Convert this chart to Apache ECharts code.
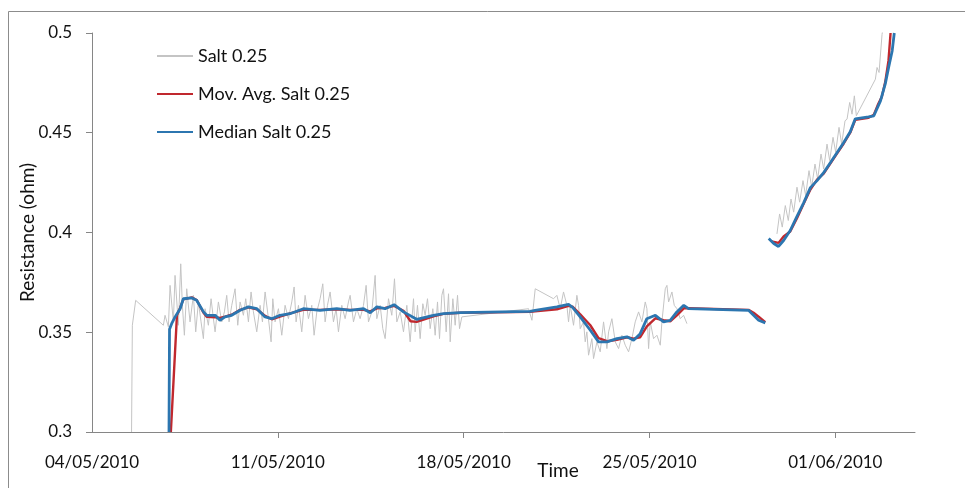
<!DOCTYPE html>
<html>
<head>
<meta charset="utf-8">
<script src="https://cdn.jsdelivr.net/npm/echarts@6/dist/echarts.min.js"></script>
<style>
  html, body { margin: 0; padding: 0; background: #fff; }
  #chart { width: 965px; height: 488px; }
</style>
</head>
<body>
<div id="chart"></div>
<script>
// x = days since 04/05/2010, y = resistance (ohm)
var xTickLabels = ['04/05/2010', '11/05/2010', '18/05/2010', '25/05/2010', '01/06/2010'];
var yTicks = [0.3, 0.35, 0.4, 0.45, 0.5];
var seriesNames = ['Salt 0.25', 'Mov. Avg. Salt 0.25', 'Median Salt 0.25'];

var salt = [
    [1.49, 0.300], [1.52, 0.3535], [1.645, 0.366], [2.688, 0.3535], [2.751, 0.3585], [2.877, 0.3527],
    [2.94, 0.3735], [3.065, 0.3552], [3.128, 0.3785], [3.254, 0.3535], [3.342, 0.3843], [3.404, 0.3635],
    [3.48, 0.3485], [3.568, 0.3718], [3.693, 0.3552], [3.819, 0.3685], [3.907, 0.3502], [4.008, 0.3652],
    [4.108, 0.3552], [4.196, 0.3468], [4.259, 0.3618], [4.384, 0.3535], [4.485, 0.3668], [4.573, 0.3568],
    [4.636, 0.3502], [4.761, 0.3652], [4.887, 0.3552], [4.987, 0.3602], [5.075, 0.3685], [5.163, 0.3552],
    [5.264, 0.3635], [5.389, 0.3718], [5.49, 0.3535], [5.578, 0.3652], [5.703, 0.3585], [5.791, 0.3668],
    [5.892, 0.3552], [5.992, 0.3702], [6.08, 0.3602], [6.206, 0.3502], [6.332, 0.3635], [6.42, 0.3552],
    [6.52, 0.3702], [6.646, 0.3568], [6.746, 0.3452], [6.81, 0.3668], [6.896, 0.3552], [7.022, 0.3618],
    [7.148, 0.3485], [7.273, 0.3635], [7.399, 0.3568], [7.525, 0.3652], [7.613, 0.3727], [7.688, 0.3552],
    [7.776, 0.3635], [7.901, 0.3502], [8.027, 0.3685], [8.153, 0.3568], [8.278, 0.3635], [8.366, 0.3485],
    [8.467, 0.3602], [8.592, 0.3668], [8.693, 0.3743], [8.781, 0.3552], [8.869, 0.3635], [8.969, 0.3702],
    [9.095, 0.3552], [9.195, 0.3618], [9.283, 0.3502], [9.409, 0.3635], [9.535, 0.3568], [9.66, 0.3652],
    [9.723, 0.3685], [9.849, 0.3552], [9.974, 0.3618], [10.1, 0.3568], [10.226, 0.3635], [10.326, 0.3735],
    [10.414, 0.3552], [10.54, 0.3602], [10.665, 0.3785], [10.728, 0.3568], [10.854, 0.3635], [10.954, 0.3518],
    [11.042, 0.3468], [11.168, 0.3668], [11.293, 0.3585], [11.394, 0.3768], [11.482, 0.3552], [11.608, 0.3602],
    [11.733, 0.3502], [11.859, 0.3635], [11.984, 0.3452], [12.11, 0.3668], [12.172, 0.3502], [12.26, 0.3635],
    [12.361, 0.3468], [12.461, 0.3643], [12.549, 0.3585], [12.637, 0.3668], [12.738, 0.3518], [12.838, 0.3618],
    [12.926, 0.3485], [13.014, 0.3652], [13.09, 0.3468], [13.177, 0.3685], [13.24, 0.3718], [13.341, 0.3502],
    [13.429, 0.3693], [13.492, 0.3452], [13.592, 0.3668], [13.68, 0.3535], [13.768, 0.3685], [13.843, 0.3518],
    [13.931, 0.3577], [16.444, 0.3618], [16.57, 0.356], [16.695, 0.3718], [17.385, 0.3668], [17.51, 0.3685],
    [17.636, 0.3618], [17.761, 0.3702], [17.887, 0.3635], [17.95, 0.3552], [18.013, 0.3635], [18.138, 0.3535],
    [18.264, 0.3685], [18.327, 0.3635], [18.39, 0.3518], [18.515, 0.3552], [18.578, 0.3452], [18.641, 0.3502],
    [18.704, 0.3385], [18.83, 0.3468], [18.892, 0.3368], [19.018, 0.3452], [19.143, 0.3402], [19.269, 0.3552],
    [19.395, 0.3418], [19.458, 0.3502], [19.583, 0.3568], [19.709, 0.3452], [19.835, 0.3418], [19.96, 0.3485],
    [20.086, 0.3435], [20.211, 0.3402], [20.337, 0.3468], [20.462, 0.3552], [20.588, 0.3602], [20.714, 0.3552],
    [20.839, 0.3652], [20.902, 0.3618], [20.965, 0.3418], [21.028, 0.3552], [21.153, 0.3468], [21.279, 0.3485],
    [21.405, 0.3435], [21.467, 0.3552], [21.593, 0.3718], [21.656, 0.3735], [21.719, 0.3652], [21.844, 0.3702],
    [21.932, 0.3635], [22.033, 0.3618], [22.158, 0.3568], [22.284, 0.3585], [22.41, 0.3543],
    [24.0, null],
    [25.80, 0.3993], [25.90, 0.4093], [26.0, 0.4027], [26.115, 0.4135], [26.228, 0.406], [26.329, 0.4168],
    [26.43, 0.4102], [26.555, 0.4227], [26.655, 0.4152], [26.781, 0.426], [26.881, 0.4185], [27.007, 0.431],
    [27.108, 0.4227], [27.233, 0.4343], [27.334, 0.4268], [27.46, 0.4393], [27.56, 0.4318], [27.686, 0.4443],
    [27.786, 0.436], [27.912, 0.4477], [28.012, 0.4402], [28.138, 0.4527], [28.238, 0.4443], [28.364, 0.456],
    [28.44, 0.4568], [28.54, 0.4652], [28.628, 0.4593], [28.716, 0.4685], [28.791, 0.4585], [29.507, 0.4768],
    [29.57, 0.4827], [29.646, 0.4802], [29.759, 0.4993], [29.79, 0.502]
];

var movAvg = [
    [2.97, 0.300], [3.20, 0.3585], [3.32, 0.3622], [3.44, 0.3665], [3.76, 0.3675], [3.94, 0.3662],
    [4.20, 0.3598], [4.32, 0.3578], [4.64, 0.3575], [4.82, 0.3572], [5.01, 0.3578], [5.26, 0.3588],
    [5.58, 0.3612], [5.89, 0.3625], [6.21, 0.3615], [6.52, 0.3582], [6.77, 0.3565], [7.08, 0.3578],
    [7.46, 0.3595], [7.96, 0.3612], [8.59, 0.3612], [9.22, 0.3615], [9.72, 0.3612], [10.23, 0.3612],
    [10.48, 0.3605], [10.73, 0.362], [11.04, 0.3622], [11.38, 0.3632], [11.73, 0.3608], [12.00, 0.3555],
    [12.23, 0.3552], [12.86, 0.358], [13.24, 0.3592], [13.87, 0.3598], [16.50, 0.3602], [16.69, 0.3605],
    [17.51, 0.3615], [17.95, 0.3632], [18.10, 0.3628], [18.39, 0.359], [18.77, 0.3535], [19.08, 0.347],
    [19.40, 0.3455], [19.77, 0.3462], [20.15, 0.3475], [20.40, 0.3468], [20.65, 0.3475], [20.90, 0.353],
    [21.22, 0.357], [21.53, 0.356], [21.78, 0.3555], [22.03, 0.3585], [22.29, 0.362], [22.47, 0.362],
    [24.73, 0.3612], [24.92, 0.3598], [25.11, 0.3578], [25.36, 0.355],
    [25.42, null],
    [25.60, 0.3955], [25.86, 0.3948], [26.05, 0.398], [26.30, 0.4005], [26.55, 0.407], [26.81, 0.4145],
    [27.06, 0.4215], [27.31, 0.4265], [27.56, 0.4295], [27.81, 0.4345], [28.06, 0.4395], [28.31, 0.4445],
    [28.56, 0.450], [28.75, 0.4565], [29.0, 0.457], [29.25, 0.4575], [29.45, 0.459], [29.60, 0.464],
    [29.75, 0.468], [29.88, 0.4755], [30.0, 0.486], [30.08, 0.500]
];

var median = [
    [2.90, 0.300], [2.92, 0.3515], [3.0, 0.3543], [3.13, 0.3577], [3.32, 0.3618], [3.44, 0.3668],
    [3.76, 0.3672], [3.94, 0.366], [4.20, 0.3602], [4.32, 0.3585], [4.64, 0.3585], [4.82, 0.356],
    [5.01, 0.3577], [5.26, 0.3585], [5.58, 0.361], [5.89, 0.3627], [6.21, 0.3618], [6.52, 0.3577],
    [6.77, 0.3568], [7.08, 0.3585], [7.46, 0.3593], [7.96, 0.3618], [8.59, 0.361], [9.22, 0.3618],
    [9.72, 0.361], [10.23, 0.3618], [10.48, 0.3598], [10.73, 0.3627], [11.04, 0.3618], [11.38, 0.3638],
    [11.73, 0.3602], [12.23, 0.3565], [12.86, 0.3585], [13.24, 0.3593], [13.87, 0.3598], [16.50, 0.3605],
    [16.69, 0.361], [17.51, 0.3627], [17.95, 0.364], [18.10, 0.3625], [18.39, 0.3577], [18.77, 0.351],
    [19.08, 0.3452], [19.40, 0.3452], [19.77, 0.3468], [20.15, 0.3477], [20.40, 0.346], [20.65, 0.3493],
    [20.90, 0.3568], [21.22, 0.3585], [21.53, 0.3552], [21.78, 0.356], [22.03, 0.3602], [22.29, 0.3635],
    [22.47, 0.3618], [24.73, 0.361], [24.92, 0.3585], [25.11, 0.356], [25.36, 0.3547],
    [25.42, null],
    [25.49, 0.397], [25.68, 0.3945], [25.86, 0.393], [26.05, 0.396], [26.30, 0.401], [26.55, 0.408],
    [26.81, 0.415], [27.06, 0.4225], [27.31, 0.426], [27.56, 0.430], [27.81, 0.435], [28.06, 0.440],
    [28.31, 0.445], [28.56, 0.4505], [28.75, 0.457], [29.0, 0.4575], [29.25, 0.458], [29.45, 0.4585],
    [29.70, 0.466], [29.88, 0.4745], [30.01, 0.483], [30.14, 0.491], [30.22, 0.500]
];

var FONT = 'Lato, "Open Sans", sans-serif';
var chart = echarts.init(document.getElementById('chart'));

var option = {
    animation: false,
    backgroundColor: '#fff',
    graphic: [{
        type: 'rect',
        shape: { x: 8.5, y: 11.5, width: 1000, height: 520 },
        style: { fill: 'none', stroke: '#8c8c8c', lineWidth: 1 },
        silent: true
    }],
    grid: { left: 92, right: 50, top: 33, bottom: 56, outerBoundsMode: 'none', containLabel: false },
    legend: {
        orient: 'vertical',
        left: 152,
        top: 42,
        icon: 'rect',
        itemWidth: 36,
        itemHeight: 2,
        itemGap: 20,
        textStyle: { fontFamily: FONT, fontSize: 18, color: '#111', lineHeight: 18 },
        data: seriesNames
    },
    xAxis: {
        type: 'value',
        min: 0,
        max: 31,
        interval: 7,
        name: 'Time',
        nameLocation: 'middle',
        nameGap: 29,
        nameMoveOverlap: false,
        nameTextStyle: { fontFamily: FONT, fontSize: 19, color: '#111', padding: [0, 0, 0, 109] },
        axisLine: { lineStyle: { color: '#868686', width: 1 } },
        axisTick: { show: true, length: 6, lineStyle: { color: '#868686' }, customValues: [7, 14, 21, 28] },
        axisLabel: {
            fontFamily: FONT, fontSize: 17, color: '#111', margin: 22,
            customValues: [0, 7, 14, 21, 28],
            formatter: function (v) { return xTickLabels[Math.round(v / 7)] || ''; }
        },
        splitLine: { show: false }
    },
    yAxis: {
        type: 'value',
        min: yTicks[0],
        max: yTicks[yTicks.length - 1],
        interval: 0.05,
        name: 'Resistance (ohm)',
        nameLocation: 'middle',
        nameGap: 55,
        nameMoveOverlap: false,
        nameTextStyle: { fontFamily: FONT, fontSize: 19, color: '#111' },
        axisLine: { show: true, lineStyle: { color: '#868686', width: 1 } },
        axisTick: { show: true, length: 6, lineStyle: { color: '#868686' } },
        axisLabel: { fontFamily: FONT, fontSize: 17, color: '#111', margin: 20 },
        splitLine: { show: false }
    },
    series: [{
        name: seriesNames[0],
        type: 'line',
        data: salt,
        showSymbol: false,
        symbol: 'none',
        connectNulls: false,
        itemStyle: { color: '#c4c4c4' },
        lineStyle: { color: '#c4c4c4', width: 1 },
        z: 2
    }, {
        name: seriesNames[1],
        type: 'line',
        data: movAvg,
        showSymbol: false,
        symbol: 'none',
        connectNulls: false,
        itemStyle: { color: '#c0282e' },
        lineStyle: { color: '#c0282e', width: 2.4 },
        z: 3
    }, {
        name: seriesNames[2],
        type: 'line',
        data: median,
        showSymbol: false,
        symbol: 'none',
        connectNulls: false,
        itemStyle: { color: '#2c76b0' },
        lineStyle: { color: '#2c76b0', width: 2.8 },
        z: 4
    }]
};
chart.setOption(option);
</script>
</body>
</html>
